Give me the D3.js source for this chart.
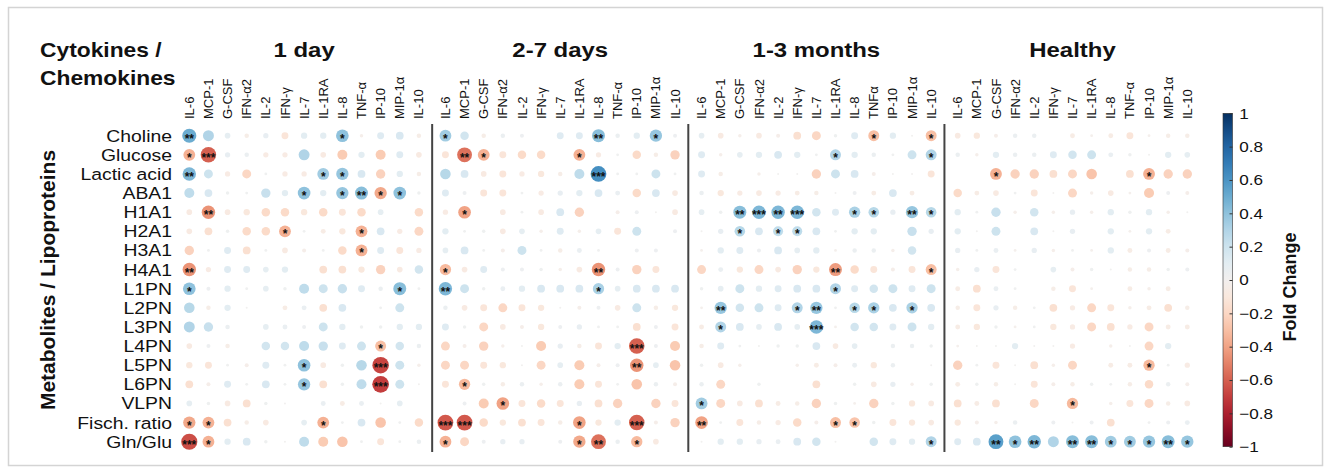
<!DOCTYPE html>
<html>
<head>
<meta charset="utf-8">
<script src="https://cdn.jsdelivr.net/npm/d3@7"></script>
<style>
  body { margin: 0; background: #fff; }
  text { font-family: "Liberation Sans", Arial, sans-serif; fill: #111; }
</style>
</head>
<body>
<div id="chart"></div>
<script>
var svgWidth = 1331;
var svgHeight = 473;

// categories
var groups = ["1 day", "2-7 days", "1-3 months", "Healthy"];
var cytokines = ["IL-6", "MCP-1", "G-CSF", "IFN-α2", "IL-2", "IFN-γ", "IL-7", "IL-1RA", "IL-8", "TNF-α", "IP-10", "MIP-1α", "IL-10"];
// the 1-3 months panel is labelled "TNFα"
var cytokinesMonths = ["IL-6", "MCP-1", "G-CSF", "IFN-α2", "IL-2", "IFN-γ", "IL-7", "IL-1RA", "IL-8", "TNFα", "IP-10", "MIP-1α", "IL-10"];
var metabolites = ["Choline", "Glucose", "Lactic acid", "ABA1", "H1A1", "H2A1", "H3A1", "H4A1", "L1PN", "L2PN", "L3PN", "L4PN", "L5PN", "L6PN", "VLPN", "Fisch. ratio", "Gln/Glu"];
var colorTicks = [1, 0.8, 0.6, 0.4, 0.2, 0, -0.2, -0.4, -0.6, -0.8, -1];

// fold change, one row per metabolite, one value per cytokine
var day1 = [
  [0.5, 0.3, 0.08, -0.05, 0.07, -0.12, 0.1, 0.1, 0.4, -0.03, 0.12, 0.15, -0.05],
  [-0.35, -0.6, 0.07, 0.05, -0.07, -0.07, 0.3, -0.08, -0.25, 0.1, -0.25, 0.12, -0.08],
  [0.45, 0.2, -0.07, -0.2, 0.02, -0.07, -0.07, 0.35, 0.38, 0.15, -0.22, 0.1, -0.05],
  [0.25, 0.15, 0.03, 0.02, 0.22, 0.1, 0.4, 0.1, 0.38, 0.42, -0.38, 0.4, 0.03],
  [-0.08, -0.45, -0.08, -0.1, -0.18, -0.18, -0.1, -0.18, -0.12, -0.18, 0.08, 0, -0.18],
  [-0.08, -0.15, 0.03, -0.18, -0.18, -0.35, 0.02, -0.06, -0.1, -0.35, 0.15, -0.07, -0.2],
  [-0.22, 0.02, 0.12, -0.15, 0.02, -0.08, -0.04, 0.02, -0.18, -0.35, 0.12, -0.12, -0.07],
  [-0.45, -0.07, 0.12, 0.12, 0.08, 0.1, 0, -0.15, -0.15, -0.1, -0.22, -0.08, 0.18],
  [0.4, 0.04, 0.1, 0.02, 0.08, 0.03, 0.25, 0.2, 0.22, 0.12, 0.05, 0.42, 0.02],
  [0.28, -0.05, 0.1, 0.01, 0, -0.06, 0.06, -0.15, 0.15, 0, 0.02, 0.2, 0],
  [0.3, 0.22, 0.05, 0, 0.08, 0.06, 0.04, 0.2, 0.1, 0.03, 0.03, 0.1, 0.1],
  [-0.08, 0.04, -0.05, 0, 0.18, 0.18, 0.25, 0.22, 0.12, 0.2, -0.3, 0.18, 0.05],
  [-0.1, -0.12, 0.02, -0.04, 0.12, 0.02, 0.4, -0.08, 0.03, 0.28, -0.68, 0.2, -0.03],
  [-0.15, -0.04, 0.12, 0.02, 0.15, 0.02, 0.38, -0.15, 0.03, 0.25, -0.7, 0.2, 0.01],
  [0.08, 0.03, -0.08, -0.15, 0.03, 0.01, 0, 0.06, -0.06, 0.06, 0.01, 0.08, 0],
  [-0.38, -0.35, -0.15, -0.05, -0.08, 0, 0.08, -0.35, 0.02, 0.15, -0.28, 0.02, -0.18],
  [-0.65, -0.35, 0.1, 0.15, 0.03, 0.01, 0.25, -0.25, -0.28, 0.02, -0.12, 0.02, 0.05]
];
var days27 = [
  [0.35, 0.18, -0.05, 0.05, 0.04, 0, 0.12, 0.12, 0.42, 0.05, 0.1, 0.38, 0.04],
  [-0.12, -0.55, -0.35, -0.12, -0.18, -0.18, 0, -0.35, -0.07, 0.02, -0.18, -0.05, -0.22],
  [0.28, 0.15, -0.08, -0.12, -0.07, -0.1, -0.05, 0.25, 0.62, 0.02, 0.02, 0.2, 0.02],
  [0.12, 0.04, -0.12, -0.12, 0.02, -0.07, 0.07, 0.1, 0.15, 0.06, -0.18, 0.15, -0.08],
  [-0.07, -0.4, 0, -0.08, 0.02, -0.08, 0.15, -0.22, 0, -0.04, 0.04, 0.01, -0.08],
  [0.1, 0.02, 0.03, -0.08, 0.08, -0.03, 0.12, -0.03, 0.08, -0.12, 0.2, 0, 0.04],
  [0.08, 0.15, 0.02, -0.04, 0.2, 0.02, -0.05, 0.06, 0.02, 0, 0.04, 0.04, 0],
  [-0.32, -0.08, 0.12, 0.04, 0.04, 0.03, -0.03, -0.08, -0.45, 0.04, -0.22, -0.12, 0],
  [0.45, 0.2, 0.03, 0.06, 0.1, 0.15, 0.15, 0.15, 0.32, 0.08, 0.15, 0.15, 0.15],
  [0.05, -0.08, -0.12, -0.2, -0.12, -0.1, 0.01, -0.04, 0.04, -0.08, 0.2, -0.05, -0.1],
  [0.12, 0.03, -0.2, -0.08, -0.04, -0.1, 0.04, 0.07, 0.02, 0.02, -0.15, 0.04, -0.12],
  [-0.2, -0.04, -0.22, -0.03, 0.01, -0.25, 0.07, -0.05, -0.12, 0.1, -0.6, 0.04, -0.25],
  [-0.2, -0.2, -0.12, -0.1, 0.01, -0.2, 0.08, -0.25, -0.04, 0.04, -0.45, 0.08, -0.28],
  [-0.12, -0.32, 0.03, -0.05, 0.05, -0.03, 0.05, -0.25, -0.12, 0.02, -0.28, 0.05, -0.04],
  [0, 0.04, -0.25, -0.4, -0.12, -0.18, -0.12, 0.07, -0.15, -0.22, 0, -0.22, -0.12],
  [-0.62, -0.62, -0.18, -0.1, -0.15, -0.12, -0.05, -0.4, -0.1, 0.1, -0.6, -0.04, -0.22],
  [-0.35, -0.2, 0.04, 0.07, 0.07, 0, 0.04, -0.38, -0.55, 0.05, -0.32, -0.08, 0]
];
var months13 = [
  [0.08, -0.08, -0.03, -0.08, -0.04, -0.15, -0.2, 0.03, 0.12, -0.3, 0.1, 0.01, -0.3],
  [0.12, -0.03, 0.08, 0.1, 0.15, 0.1, 0.02, 0.3, 0.1, 0.05, 0.02, 0.2, 0.3],
  [0.12, -0.05, 0, -0.03, 0.01, 0.01, -0.22, 0.2, 0.15, -0.04, 0.01, 0.01, -0.12],
  [0.05, -0.1, -0.07, -0.08, -0.07, -0.06, -0.05, 0.01, 0.04, -0.06, 0.15, -0.06, 0],
  [0.08, 0.03, 0.42, 0.45, 0.45, 0.45, 0.18, 0.12, 0.32, 0.28, 0.07, 0.38, 0.28],
  [0.01, 0.07, 0.28, 0.15, 0.25, 0.25, 0.15, 0.02, 0.1, 0.1, 0, 0.22, 0.07],
  [-0.02, 0.1, 0.12, 0.04, 0.15, 0.08, 0.1, -0.02, 0.05, 0.05, -0.03, 0.18, 0],
  [-0.2, 0.06, -0.1, -0.2, -0.08, -0.22, -0.1, -0.42, -0.18, -0.12, -0.04, -0.12, -0.3],
  [0.03, 0.08, 0.2, 0.1, 0.12, 0.15, 0.15, 0.3, 0.12, 0.18, 0.2, 0.12, 0.2],
  [-0.02, 0.38, 0.18, 0.2, 0.12, 0.3, 0.38, 0.02, 0.28, 0.32, 0.15, 0.32, 0.15],
  [-0.06, 0.3, 0.15, 0.08, 0.15, 0.08, 0.45, -0.02, 0.18, 0.18, 0.12, 0.2, 0.1],
  [-0.05, 0.12, 0.02, 0.01, 0.03, 0.03, 0.15, -0.08, 0.08, 0, 0.05, 0.05, 0.03],
  [0.03, -0.08, -0.03, 0, 0, -0.03, -0.06, -0.04, 0.06, -0.1, 0.05, 0, 0.01],
  [0.05, -0.2, 0, 0.03, 0, 0, -0.15, 0, 0.03, -0.08, 0.07, -0.03, 0.03],
  [0.35, -0.2, -0.08, -0.15, -0.06, -0.05, -0.22, 0.03, -0.02, -0.22, 0.03, -0.1, -0.08],
  [-0.4, 0.02, -0.12, -0.05, -0.07, -0.18, -0.04, -0.3, -0.28, 0.03, -0.12, -0.1, -0.08],
  [0.01, 0.1, 0.1, 0.07, 0.06, 0.15, 0.18, 0.01, 0, 0.18, 0.12, 0.1, 0.3]
];
var healthy = [
  [-0.08, -0.1, -0.04, 0.05, 0.05, 0, -0.06, -0.02, -0.06, -0.12, -0.02, -0.05, -0.05],
  [0.05, -0.03, 0.1, 0.05, 0.05, 0.12, 0.18, 0.2, 0.06, 0.03, 0.01, 0.1, 0.08],
  [0, 0, -0.35, -0.22, -0.22, -0.15, -0.2, -0.28, 0, -0.15, -0.35, -0.22, -0.22],
  [-0.18, -0.06, -0.08, 0.02, -0.12, 0.01, -0.2, -0.03, -0.08, -0.02, -0.25, 0.04, -0.04],
  [0.1, 0.02, 0.22, -0.03, 0.18, -0.03, 0.07, -0.03, 0.1, 0.03, 0.1, -0.03, 0.01],
  [0.1, 0.01, 0.2, 0, 0.15, 0.01, 0.07, 0, 0.1, -0.02, 0.1, -0.06, 0],
  [0.07, 0.02, 0.06, -0.02, 0.07, -0.03, 0.02, -0.02, 0.1, -0.06, 0.04, -0.06, -0.04],
  [-0.03, 0.07, -0.12, 0.02, 0, 0.08, -0.04, 0.03, 0.01, -0.05, -0.05, 0.03, 0.04],
  [-0.06, -0.15, 0.06, 0.02, 0, -0.05, -0.12, -0.02, 0, -0.06, -0.03, -0.06, 0],
  [-0.05, -0.12, 0.07, -0.05, 0.02, -0.15, -0.07, -0.2, -0.12, -0.03, -0.06, -0.15, -0.05],
  [-0.06, -0.1, 0.03, -0.02, 0.02, -0.1, -0.07, -0.2, -0.15, -0.07, -0.2, -0.06, -0.06],
  [-0.02, 0.01, 0.01, 0.1, 0.01, 0.01, -0.07, 0, -0.03, 0.01, -0.2, 0.1, 0],
  [-0.22, 0.02, -0.12, 0.01, -0.15, -0.03, -0.2, 0, -0.06, -0.06, -0.32, 0.02, -0.07],
  [-0.06, 0.03, -0.05, 0.01, -0.12, -0.04, -0.05, 0.03, 0.02, -0.05, -0.18, 0.05, -0.04],
  [-0.15, -0.06, -0.15, 0, -0.2, 0, -0.32, 0, -0.03, -0.12, -0.2, -0.05, -0.08],
  [-0.1, -0.04, -0.03, 0.05, 0, 0.04, 0.01, 0.04, -0.15, 0, 0.02, 0.04, 0.06],
  [0.12, 0.15, 0.55, 0.4, 0.45, 0.3, 0.42, 0.42, 0.35, 0.35, 0.38, 0.42, 0.38]
];

// number of significance stars per cell (one digit per cytokine)
var starsDay1 = ["2000000010000", "1300000000000", "2000000110000", "0000001012110", "0200000000000", "0000010001000", "0000000001000", "2000000000000", "1000000000010", "0000000000000", "0000000000000", "0000000000100", "0000001000300", "0000001000300", "0000000000000", "1100000100000", "3100000000000"];
var starsDays27 = ["1000000020010", "0210000100000", "0000000030000", "0000000000000", "0100000000000", "0000000000000", "0000000000000", "1000000020000", "2000000010000", "0000000000000", "0000000000000", "0000000000300", "0000000000200", "0100000000000", "0001000000000", "3300000100300", "1000000120100"];
var starsMonths13 = ["0000000001001", "0000000100001", "0000000000000", "0000000000000", "0023230011021", "0010110000000", "0000000000000", "0000000200001", "0000000100000", "0200012011010", "0100003000000", "0000000000000", "0000000000000", "0000000000000", "1000000000000", "2000000110000", "0000000000001"];
var starsHealthy = ["0000000000000", "0000000000000", "0010000000100", "0000000000000", "0000000000000", "0000000000000", "0000000000000", "0000000000000", "0000000000000", "0000000000000", "0000000000000", "0000000000000", "0000000000100", "0000000000000", "0000001000000", "0000000000000", "0021202211121"];

var values = [day1, days27, months13, healthy];
var stars = [starsDay1, starsDays27, starsMonths13, starsHealthy];
var labelSets = [cytokines, cytokines, cytokinesMonths, cytokines];

var stretch = "scale(1.14,1)";

var svg = d3.select("#chart")
  .append("svg")
  .attr("width", svgWidth)
  .attr("height", svgHeight);

// light frame round the figure
svg.append("rect")
  .attr("x", 8.5).attr("y", 7.5)
  .attr("width", 1314).attr("height", 458)
  .attr("fill", "none")
  .attr("stroke", "#d4d4d4")
  .attr("stroke-width", 1.5);

// scales
var groupX = d3.scalePoint().domain(groups).range([189.3, 957.7]);
var colX = d3.scalePoint().domain(d3.range(cytokines.length)).range([0, 229.6]);
var yScale = d3.scalePoint().domain(metabolites).range([135.7, 441.7]);
var rScale = d3.scaleSqrt().domain([0, 1]).range([0, 10]);
var color = d3.scaleDiverging([-1, 0, 1], d3.interpolateRdBu).clamp(true);

// flatten into cells
var cells = [];
groups.forEach(function(g, gi) {
  metabolites.forEach(function(m, mi) {
    cytokines.forEach(function(c, ci) {
      cells.push({
        group: g, metabolite: m, col: ci,
        value: values[gi][mi][ci],
        stars: +stars[gi][mi][ci]
      });
    });
  });
});

var cellX = d => groupX(d.group) + colX(d.col);

svg.append("g").selectAll("circle")
  .data(cells)
  .enter()
  .append("circle")
  .attr("cx", cellX)
  .attr("cy", d => yScale(d.metabolite))
  .attr("r", d => rScale(Math.abs(d.value)))
  .attr("fill", d => color(d.value));

svg.append("g").selectAll("text")
  .data(cells.filter(d => d.stars > 0))
  .enter()
  .append("text")
  .attr("x", cellX)
  .attr("y", d => yScale(d.metabolite) + 7)
  .attr("text-anchor", "middle")
  .attr("font-size", 12)
  .attr("font-weight", "bold")
  .text(d => "*".repeat(d.stars));

// separators between the panels
var step = groupX.step();
groups.slice(1).forEach(function(g) {
  var sx = groupX(g) - (step - 229.6) / 2;
  svg.append("line")
    .attr("x1", sx).attr("x2", sx)
    .attr("y1", 124).attr("y2", 452)
    .attr("stroke", "#444")
    .attr("stroke-width", 2);
});

// column labels
groups.forEach(function(g, gi) {
  svg.append("g").selectAll("text")
    .data(labelSets[gi])
    .enter()
    .append("text")
    .attr("transform", (d, i) => `translate(${groupX(g) + colX(i)}, 119) rotate(-90)`)
    .attr("dy", "0.35em")
    .attr("font-size", 13)
    .text(d => d);

  svg.append("text")
    .attr("transform", `translate(${groupX(g) + 114.8}, 57) ${stretch}`)
    .attr("text-anchor", "middle")
    .attr("font-size", 21)
    .attr("font-weight", "bold")
    .text(g);
});

// row labels
svg.append("g").selectAll("text")
  .data(metabolites)
  .enter()
  .append("text")
  .attr("transform", d => `translate(172, ${yScale(d)}) ${stretch}`)
  .attr("dy", "0.35em")
  .attr("text-anchor", "end")
  .attr("font-size", 17)
  .text(d => d);

svg.append("text")
  .attr("transform", `translate(40, 57) ${stretch}`)
  .attr("font-size", 20)
  .attr("font-weight", "bold")
  .text("Cytokines /");
svg.append("text")
  .attr("transform", `translate(40, 85) ${stretch}`)
  .attr("font-size", 20)
  .attr("font-weight", "bold")
  .text("Chemokines");

svg.append("text")
  .attr("transform", "translate(48, 280) rotate(-90)")
  .attr("dy", "0.35em")
  .attr("text-anchor", "middle")
  .attr("font-size", 21)
  .attr("font-weight", "bold")
  .text("Metabolites / Lipoproteins");

// colour bar
var cbScale = d3.scaleLinear().domain([-1, 1]).range([446.7, 113.3]);
var grad = svg.append("defs").append("linearGradient")
  .attr("id", "cbar")
  .attr("x1", 0).attr("y1", 1).attr("x2", 0).attr("y2", 0);
grad.selectAll("stop")
  .data(d3.range(0, 1.0001, 0.05))
  .enter()
  .append("stop")
  .attr("offset", d => d)
  .attr("stop-color", d => color(d * 2 - 1));

svg.append("rect")
  .attr("x", 1223).attr("y", cbScale(1))
  .attr("width", 9.5).attr("height", cbScale(-1) - cbScale(1))
  .attr("fill", "url(#cbar)")
  .attr("stroke", "#333")
  .attr("stroke-width", 0.6);

var cbAxis = svg.append("g")
  .attr("transform", "translate(1232.5, 0)")
  .call(d3.axisRight(cbScale).tickValues(colorTicks).tickFormat(d3.format("")).tickSizeInner(-3).tickSizeOuter(0).tickPadding(6));
cbAxis.select(".domain").remove();
cbAxis.selectAll("line").attr("stroke", "#333");
cbAxis.selectAll("text")
  .attr("font-size", 15)
  .attr("font-family", "Liberation Sans, Arial, sans-serif")
  .attr("fill", "#111")
  .attr("transform", stretch);

svg.append("text")
  .attr("transform", "translate(1290, 287) rotate(-90)")
  .attr("dy", "0.35em")
  .attr("text-anchor", "middle")
  .attr("font-size", 18)
  .attr("font-weight", "bold")
  .text("Fold Change");
</script>
</body>
</html>
